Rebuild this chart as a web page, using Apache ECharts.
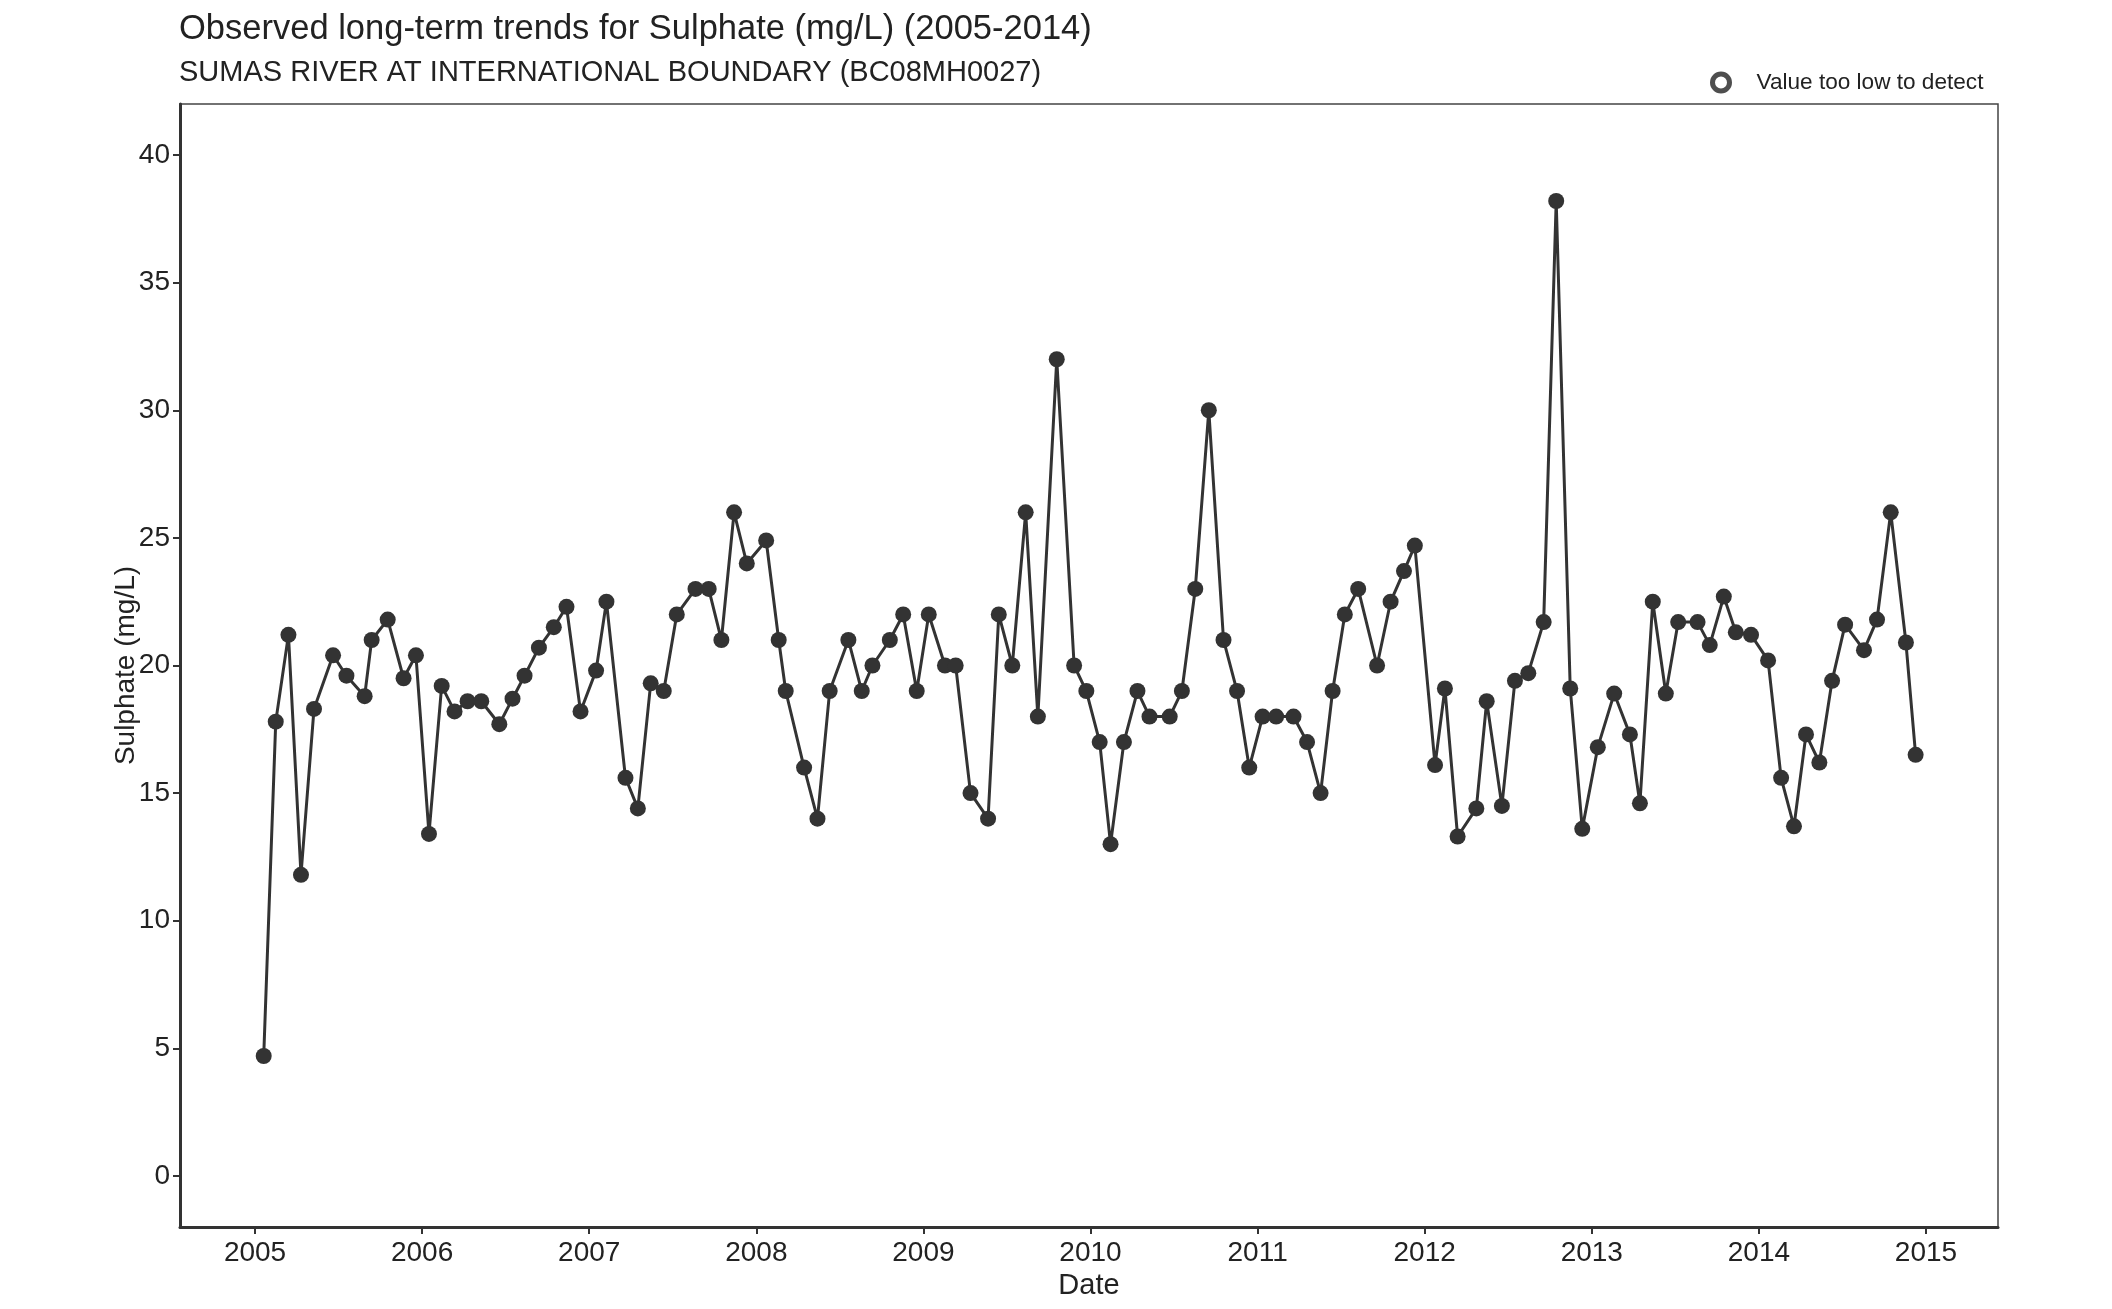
<!DOCTYPE html>
<html>
<head>
<meta charset="utf-8">
<script src="https://cdn.jsdelivr.net/npm/echarts@6/dist/echarts.min.js"></script>
<style>
html,body{margin:0;padding:0;background:#fff;}
#chart{width:2112px;height:1309px;}
</style>
</head>
<body>
<div id="chart"></div>
<script>
// Sample times (decimal years) and sulphate values (mg/L)
const sampleYears = [
  2005.052, 2005.124, 2005.200, 2005.275, 2005.353, 2005.467, 2005.547, 2005.656, 2005.698, 2005.794,
  2005.889, 2005.963, 2006.041, 2006.117, 2006.194, 2006.272, 2006.354, 2006.462, 2006.541, 2006.613,
  2006.699, 2006.788, 2006.864, 2006.948, 2007.041, 2007.103, 2007.217, 2007.291, 2007.368, 2007.446,
  2007.524, 2007.636, 2007.715, 2007.791, 2007.867, 2007.943, 2008.059, 2008.134, 2008.176, 2008.286,
  2008.366, 2008.439, 2008.551, 2008.631, 2008.695, 2008.799, 2008.879, 2008.960, 2009.032, 2009.129,
  2009.193, 2009.282, 2009.387, 2009.451, 2009.532, 2009.612, 2009.685, 2009.798, 2009.902, 2009.975,
  2010.055, 2010.120, 2010.200, 2010.281, 2010.353, 2010.474, 2010.547, 2010.627, 2010.708, 2010.796,
  2010.877, 2010.950, 2011.030, 2011.111, 2011.215, 2011.296, 2011.377, 2011.449, 2011.522, 2011.602,
  2011.715, 2011.796, 2011.876, 2011.941, 2012.062, 2012.121, 2012.197, 2012.309, 2012.371, 2012.462,
  2012.540, 2012.620, 2012.712, 2012.787, 2012.871, 2012.943, 2013.036, 2013.134, 2013.228, 2013.288,
  2013.365, 2013.443, 2013.517, 2013.633, 2013.706, 2013.790, 2013.862, 2013.953, 2014.055, 2014.133,
  2014.210, 2014.282, 2014.362, 2014.438, 2014.516, 2014.629, 2014.707, 2014.789, 2014.880, 2014.938
];
const sulphate = [
  4.7, 17.8, 21.2, 11.8, 18.3, 20.4, 19.6, 18.8, 21.0, 21.8,
  19.5, 20.4, 13.4, 19.2, 18.2, 18.6, 18.6, 17.7, 18.7, 19.6,
  20.7, 21.5, 22.3, 18.2, 19.8, 22.5, 15.6, 14.4, 19.3, 19.0,
  22.0, 23.0, 23.0, 21.0, 26.0, 24.0, 24.9, 21.0, 19.0, 16.0,
  14.0, 19.0, 21.0, 19.0, 20.0, 21.0, 22.0, 19.0, 22.0, 20.0,
  20.0, 15.0, 14.0, 22.0, 20.0, 26.0, 18.0, 32.0, 20.0, 19.0,
  17.0, 13.0, 17.0, 19.0, 18.0, 18.0, 19.0, 23.0, 30.0, 21.0,
  19.0, 16.0, 18.0, 18.0, 18.0, 17.0, 15.0, 19.0, 22.0, 23.0,
  20.0, 22.5, 23.7, 24.7, 16.1, 19.1, 13.3, 14.4, 18.6, 14.5,
  19.4, 19.7, 21.7, 38.2, 19.1, 13.6, 16.8, 18.9, 17.3, 14.6,
  22.5, 18.9, 21.7, 21.7, 20.8, 22.7, 21.3, 21.2, 20.2, 15.6,
  13.7, 17.3, 16.2, 19.4, 21.6, 20.6, 21.8, 26.0, 20.9, 16.5
];
const belowDetection = []; // no values below detection limit
const xTicks = [2005, 2006, 2007, 2008, 2009, 2010, 2011, 2012, 2013, 2014, 2015];
const yTicks = [0, 5, 10, 15, 20, 25, 30, 35, 40];

const titleText = 'Observed long-term trends for Sulphate (mg/L) (2005-2014)';
const subtitleText = 'SUMAS RIVER AT INTERNATIONAL BOUNDARY (BC08MH0027)';

const FONT = '"Liberation Sans", Arial, sans-serif';
const chart = echarts.init(document.getElementById('chart'), null, {renderer: 'canvas'});

const points = sampleYears.map((t, i) => [t, sulphate[i]]);

chart.setOption({
  animation: false,
  backgroundColor: '#ffffff',
  textStyle: {fontFamily: FONT},
  title: [
    {text: titleText, left: 179, top: 12, padding: 0,
     textStyle: {fontFamily: FONT, fontSize: 34.5, fontWeight: 'normal', color: '#222'}},
    {text: subtitleText, left: 179, top: 58, padding: 0,
     textStyle: {fontFamily: FONT, fontSize: 29, fontWeight: 'normal', color: '#222'}}
  ],
  legend: {
    left: 1710, top: 71, padding: 0,
    data: [{name: 'Value too low to detect', icon: 'circle'}],
    itemWidth: 17, itemHeight: 17,
    itemStyle: {color: '#ffffff', borderColor: '#222', borderWidth: 5},
    textStyle: {fontFamily: FONT, fontSize: 22.6, color: '#222', padding: [0, 0, 0, 22]},
    selectedMode: false
  },
  grid: {
    left: 180, right: 114, top: 104, bottom: 82,
    show: true, borderColor: '#444', borderWidth: 1.5, backgroundColor: '#fff'
  },
  xAxis: {
    type: 'value',
    min: 2004.551, max: 2015.431,
    name: 'Date', nameLocation: 'middle', nameGap: 44,
    nameTextStyle: {fontFamily: FONT, fontSize: 29, color: '#222'},
    axisLine: {show: true, onZero: false, lineStyle: {color: '#333', width: 3}},
    axisTick: {show: true, length: 7, customValues: xTicks, lineStyle: {color: '#333', width: 2}},
    axisLabel: {customValues: xTicks, margin: 12, fontFamily: FONT, fontSize: 28, color: '#222',
                formatter: v => String(Math.round(v))},
    splitLine: {show: false}
  },
  yAxis: {
    type: 'value',
    min: -2, max: 42,
    name: 'Sulphate (mg/L)', nameLocation: 'middle', nameGap: 40, nameMoveOverlap: false,
    nameTextStyle: {fontFamily: FONT, fontSize: 28, color: '#222'},
    axisLine: {show: true, onZero: false, lineStyle: {color: '#333', width: 3}},
    axisTick: {show: true, length: 7, customValues: yTicks, lineStyle: {color: '#333', width: 2}},
    axisLabel: {customValues: yTicks, margin: 10, fontFamily: FONT, fontSize: 28, color: '#222'},
    splitLine: {show: false}
  },
  series: [
    {
      name: 'Sulphate',
      type: 'line',
      data: points,
      symbol: 'circle',
      symbolSize: 16,
      lineStyle: {color: '#333', width: 3},
      itemStyle: {color: '#333'},
      z: 3
    },
    {
      name: 'Value too low to detect',
      type: 'scatter',
      data: belowDetection,
      symbol: 'circle',
      symbolSize: 16,
      itemStyle: {color: '#fff', borderColor: '#222', borderWidth: 5}
    }
  ]
});
</script>
</body>
</html>
